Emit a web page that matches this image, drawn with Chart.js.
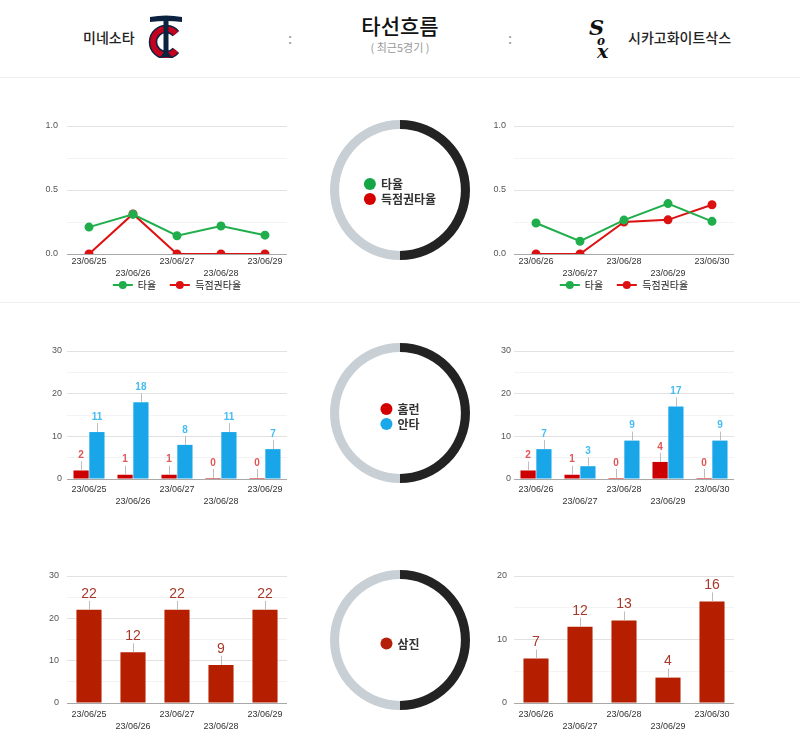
<!DOCTYPE html>
<html>
<head>
<meta charset="UTF-8">
<title>타선흐름</title>
<script src="https://cdn.jsdelivr.net/npm/chart.js@4.4.0/dist/chart.umd.min.js"></script>
<style>
  body { margin: 0; width: 800px; height: 740px; position: relative; background: #fff;
         font-family: 'Noto Sans CJK KR', 'Liberation Sans', sans-serif; overflow: hidden; }
  .abs { position: absolute; }
  .hline { position: absolute; left: 0; width: 800px; height: 1px; background: #eeeeee; }
  .team { position: absolute; top: 27px; font-size: 14px; color: #222; font-weight: 500; line-height: 20px; }
  .colon { position: absolute; top: 27px; font-size: 15px; color: #999; }
  .ring-legend { position: absolute; display: flex; flex-direction: column; transform: translate(-50%, -50%);
                 font-size: 12px; font-weight: 700; color: #333; line-height: 15px; }
  .ring-legend span { display: flex; align-items: center; white-space: nowrap; }
  .ring-legend i { width: 12px; height: 12px; border-radius: 50%; margin-right: 5px; display: inline-block; }
  .line-legend { position: absolute; display: flex; transform: translateX(-50%); font-size: 10px; color: #222;
                 line-height: 12px; white-space: nowrap; }
  .line-legend span { display: flex; align-items: center; margin: 0 7px; }
  .line-legend b { position: relative; width: 20px; height: 2px; margin-right: 5px; display: inline-block; }
  .line-legend b::after { content: ''; position: absolute; left: 6px; top: -3px; width: 8px; height: 8px;
                          border-radius: 50%; background: inherit; }
</style>
</head>
<body>

<!-- header -->
<div class="team" style="left:83px;">미네소타</div>
<svg class="abs" style="left:148px; top:14px;" width="36" height="44" viewBox="0 0 36 44">
  <path d="M27.96 19.64 A13 13 0 1 0 27.96 36.36" fill="none" stroke="#0c2340" stroke-width="8.5"/>
  <path d="M27.96 19.64 A13 13 0 1 0 27.96 36.36" fill="none" stroke="#c6011f" stroke-width="5.5"/>
  <path d="M2 3 Q18 0 34 3 L34 8 Q18 6 2 8 Z" fill="#0c2340"/>
  <rect x="15.5" y="4" width="5" height="37" fill="#0c2340"/>
  <path d="M12 43 L24 43 L20.5 39 L15.5 39 Z" fill="#0c2340"/>
</svg>
<div class="colon" style="left:288px;">:</div>
<div class="abs" style="left:300px; width:200px; top:11px; text-align:center; font-size:21px; color:#111; font-weight:500; line-height:28px;">타선흐름</div>
<div class="abs" style="left:300px; width:200px; top:40px; text-align:center; font-size:11px; color:#999; line-height:14px;">( 최근5경기 )</div>
<div class="colon" style="left:508px;">:</div>
<svg class="abs" style="left:588px; top:16px;" width="28" height="44" viewBox="0 0 28 44">
  <text x="1" y="19" font-family="DejaVu Serif" font-style="italic" font-weight="bold" font-size="21" fill="#111">S</text>
  <text x="9" y="29" font-family="DejaVu Serif" font-style="italic" font-weight="bold" font-size="12" fill="#111">o</text>
  <text x="9" y="42" font-family="DejaVu Serif" font-style="italic" font-weight="bold" font-size="19" fill="#111">x</text>
</svg>
<div class="team" style="left:628px;">시카고화이트삭스</div>
<div class="hline" style="top:77px;"></div>
<div class="hline" style="top:302px;"></div>

<!-- row 1 -->
<canvas id="avgL" class="abs" style="left:30px; top:110px;" width="270" height="175"></canvas>
<canvas id="avgR" class="abs" style="left:480px; top:110px;" width="270" height="175"></canvas>
<div class="line-legend" style="left:177px; top:279px;">
  <span><b style="background:#1fae4b"></b>타율</span><span><b style="background:#dd1111"></b>득점권타율</span>
</div>
<div class="line-legend" style="left:624px; top:279px;">
  <span><b style="background:#1fae4b"></b>타율</span><span><b style="background:#dd1111"></b>득점권타율</span>
</div>
<canvas id="ring1" class="abs" style="left:330px; top:120px;" width="140" height="140"></canvas>
<div class="ring-legend" style="left:400px; top:191px;">
  <span><i style="background:#14a547"></i>타율</span>
  <span><i style="background:#d40000"></i>득점권타율</span>
</div>

<!-- row 2 -->
<canvas id="hitL" class="abs" style="left:30px; top:340px;" width="270" height="175"></canvas>
<canvas id="hitR" class="abs" style="left:480px; top:340px;" width="270" height="175"></canvas>
<canvas id="ring2" class="abs" style="left:330px; top:343px;" width="140" height="140"></canvas>
<div class="ring-legend" style="left:400px; top:416px;">
  <span><i style="background:#d40000"></i>홈런</span>
  <span><i style="background:#19a8ea"></i>안타</span>
</div>

<!-- row 3 -->
<canvas id="soL" class="abs" style="left:30px; top:555px;" width="270" height="185"></canvas>
<canvas id="soR" class="abs" style="left:480px; top:555px;" width="270" height="185"></canvas>
<canvas id="ring3" class="abs" style="left:330px; top:570px;" width="140" height="140"></canvas>
<div class="ring-legend" style="left:400px; top:643px;">
  <span><i style="background:#b51f0a"></i>삼진</span>
</div>

<script>
// 미네소타 (left) / 시카고화이트삭스 (right), last 5 games
const twinsDates = ['23/06/25', '23/06/26', '23/06/27', '23/06/28', '23/06/29'];
const soxDates = ['23/06/26', '23/06/27', '23/06/28', '23/06/29', '23/06/30'];

const twinsAvg = [0.21, 0.31, 0.143, 0.219, 0.147];
const twinsRispAvg = [0, 0.313, 0, 0, 0];
const soxAvg = [0.242, 0.1, 0.265, 0.394, 0.255];
const soxRispAvg = [0, 0, 0.25, 0.267, 0.385];

const twinsHr = [2, 1, 1, 0, 0];
const twinsHits = [11, 18, 8, 11, 7];
const soxHr = [2, 1, 0, 4, 0];
const soxHits = [7, 3, 9, 17, 9];

const twinsSo = [22, 12, 22, 9, 22];
const soxSo = [7, 12, 13, 4, 16];

Chart.defaults.font.family = "'Liberation Sans', 'Noto Sans CJK KR', sans-serif";
Chart.defaults.animation = false;

// labels above bars with a small gray stem
const stemLabels = {
  id: 'stemLabels',
  afterDatasetsDraw(chart, args, opts) {
    const ctx = chart.ctx;
    ctx.save();
    chart.data.datasets.forEach((ds, di) => {
      const meta = chart.getDatasetMeta(di);
      meta.data.forEach((el, i) => {
        const top = Math.min(el.y, el.base);
        ctx.strokeStyle = '#bdbdbd';
        ctx.lineWidth = 1;
        ctx.beginPath();
        ctx.moveTo(Math.round(el.x) + 0.5, top);
        ctx.lineTo(Math.round(el.x) + 0.5, top - opts.stem);
        ctx.stroke();
        ctx.fillStyle = ds.labelColor;
        ctx.font = opts.font;
        ctx.textAlign = 'center';
        ctx.textBaseline = 'middle';
        ctx.fillText(ds.data[i], el.x, top - opts.offset);
      });
    });
    ctx.restore();
  }
};

function scales(c) {
  const isMajor = v => Math.abs(v / c.major - Math.round(v / c.major)) < 1e-6;
  return {
    x: {
      offset: true,
      grid: { display: false, drawTicks: false },
      border: { display: false },
      ticks: {
        autoSkip: false, maxRotation: 0, padding: c.xPad, color: '#333',
        font: { size: 9, lineHeight: 1.35 },
        callback: function (v, i) { const l = this.getLabelForValue(v); return i % 2 ? ['', l] : l; }
      },
      afterFit: s => { s.height = c.xH; }
    },
    y: {
      min: 0, max: c.max,
      grid: {
        drawTicks: false,
        color: ctx => ctx.tick.value === 0 ? '#a8a8a8' : (isMajor(ctx.tick.value) ? '#e2e2e2' : '#f3f3f3')
      },
      border: { display: false },
      ticks: {
        stepSize: c.step, padding: c.yPad, color: '#555', font: { size: 9 },
        callback: v => isMajor(v) ? (c.fixed ? v.toFixed(1) : String(v)) : ''
      },
      afterFit: s => { s.width = c.yW; }
    }
  };
}

function lineChart(id, labels, avg, risp, c) {
  new Chart(document.getElementById(id), {
    type: 'line',
    data: {
      labels: labels,
      datasets: [
        { label: '타율', data: avg, borderColor: '#1fae4b', backgroundColor: '#1fae4b', borderWidth: 2,
          pointRadius: 3.5, tension: 0 },
        { label: '득점권타율', data: risp, borderColor: '#dd1111', backgroundColor: '#dd1111', borderWidth: 2,
          pointRadius: 3.5, tension: 0 }
      ]
    },
    options: {
      responsive: false,
      layout: { padding: { left: 0, right: c.padR, top: c.padT, bottom: 0 } },
      plugins: { legend: { display: false }, tooltip: { enabled: false } },
      scales: scales(Object.assign({ max: 1, step: 0.25, major: 0.5, fixed: true }, c))
    }
  });
}

function hitChart(id, labels, hr, hits, c) {
  new Chart(document.getElementById(id), {
    type: 'bar',
    data: {
      labels: labels,
      datasets: [
        { label: '홈런', data: hr, backgroundColor: '#cc0000', labelColor: '#e25555', minBarLength: 1 },
        { label: '안타', data: hits, backgroundColor: '#18a6e9', labelColor: '#45bdf2' }
      ]
    },
    options: {
      responsive: false,
      datasets: { bar: { categoryPercentage: 0.72, barPercentage: 0.96, borderWidth: 0 } },
      layout: { padding: { left: 0, right: c.padR, top: c.padT, bottom: 0 } },
      plugins: { legend: { display: false }, tooltip: { enabled: false },
                 stemLabels: { stem: 9, offset: 15, font: 'bold 10px "Liberation Sans"' } },
      scales: scales(Object.assign({ max: 30, step: 5, major: 10 }, c))
    },
    plugins: [stemLabels]
  });
}

function soChart(id, labels, so, c) {
  new Chart(document.getElementById(id), {
    type: 'bar',
    data: {
      labels: labels,
      datasets: [
        { label: '삼진', data: so, backgroundColor: '#b51f00', labelColor: '#a63a2c' }
      ]
    },
    options: {
      responsive: false,
      datasets: { bar: { categoryPercentage: 0.57, barPercentage: 1, borderWidth: 0 } },
      layout: { padding: { left: 0, right: c.padR, top: c.padT, bottom: 0 } },
      plugins: { legend: { display: false }, tooltip: { enabled: false },
                 stemLabels: { stem: 9, offset: 16, font: '14px "Liberation Sans"' } },
      scales: scales(Object.assign({ step: 5, major: 10 }, c))
    },
    plugins: [stemLabels]
  });
}

function ring(id) {
  new Chart(document.getElementById(id), {
    type: 'doughnut',
    data: { labels: ['', ''], datasets: [{ data: [1, 1], backgroundColor: ['#232323', '#c8d0d5'], borderWidth: 0 }] },
    options: {
      responsive: false, cutout: '87%',
      plugins: { legend: { display: false }, tooltip: { enabled: false } }
    }
  });
}

lineChart('avgL', twinsDates, twinsAvg, twinsRispAvg, { padR: 13, padT: 16, yW: 37, yPad: 9, xH: 31, xPad: 1.6 });
lineChart('avgR', soxDates, soxAvg, soxRispAvg, { padR: 16, padT: 16, yW: 34, yPad: 8, xH: 31, xPad: 1.6 });

hitChart('hitL', twinsDates, twinsHr, twinsHits, { padR: 13, padT: 11, yW: 37, yPad: 5, xH: 36, xPad: 4.7 });
hitChart('hitR', soxDates, soxHr, soxHits, { padR: 16, padT: 11, yW: 34, yPad: 3, xH: 36, xPad: 4.7 });

soChart('soL', twinsDates, twinsSo, { max: 30, padR: 13, padT: 21, yW: 37, yPad: 8, xH: 37, xPad: 5.7 });
soChart('soR', soxDates, soxSo, { max: 20, padR: 16, padT: 21, yW: 34, yPad: 7, xH: 37, xPad: 5.7 });

ring('ring1');
ring('ring2');
ring('ring3');
</script>
</body>
</html>
